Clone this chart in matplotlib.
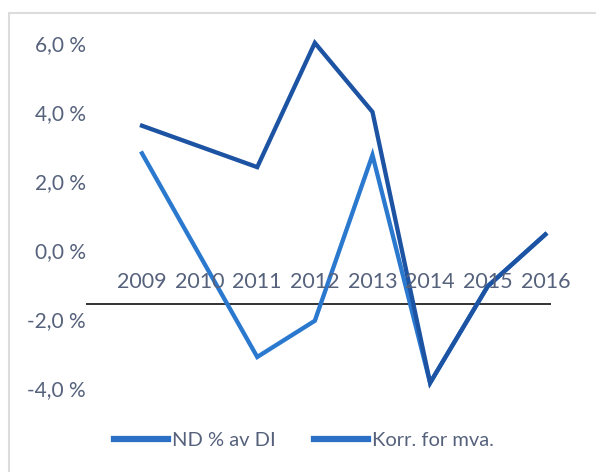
import numpy as np
import matplotlib.pyplot as plt
import matplotlib as mpl
from matplotlib.patches import Rectangle

mpl.rcParams['font.family'] = ['Lato', 'DejaVu Sans']

years = ['2009', '2010', '2011', '2012', '2013', '2014', '2015', '2016']
nd_av_di = [2.8, -0.15, -3.1, -2.05, 2.75, -3.85, -1.05, 0.45]
korr_mva = [3.6, 3.0, 2.4, 6.0, 4.0, -3.85, -1.05, 0.45]
yticks = [-4.0, -2.0, 0.0, 2.0, 4.0, 6.0]
axis_level = -1.57

text_col = '#56627c'
c_nd = '#2a79cf'
c_korr = '#1d53a3'

fig = plt.figure(figsize=(5.96, 4.72), dpi=100)
# light frame of the chart area
fig.patches.append(Rectangle((9 / 596, -0.05), 1.2, 1 - 13 / 472 + 0.05,
                             transform=fig.transFigure, fill=False,
                             edgecolor='#dcdcdc', lw=1.5))

ax = fig.add_axes([0.158, 0.134, 0.786, 0.819])
x = np.arange(len(years))

ax.plot(x, nd_av_di, color=c_nd, lw=3.1, label='ND % av DI', solid_joinstyle='miter')
ax.plot(x, korr_mva, color=c_korr, lw=3.1, label='Korr. for mva.', solid_joinstyle='miter')

ax.hlines(axis_level, -0.98, 7.1, color='#333333', lw=1.4, clip_on=False, zorder=1)

for i, yr in enumerate(years):
    ax.text(i, axis_level + 0.65, yr, ha='center', va='center', fontsize=15.5, color=text_col)

ax.set_xlim(-0.83, 7.3)
ax.set_ylim(-4.6, 6.6)
ax.set_xticks([])
ax.set_yticks(yticks)
ax.set_yticklabels([('%.1f %%' % v).replace('.', ',') for v in yticks])
ax.tick_params(axis='y', length=0, labelsize=15, labelcolor=text_col, pad=6)
for s in ax.spines.values():
    s.set_visible(False)

ax.legend(loc='center', bbox_to_anchor=(0.51, (472 - 440) / 472), bbox_transform=fig.transFigure,
          ncol=2, frameon=False, fontsize=14.5, labelcolor=text_col, handlelength=2.7,
          handletextpad=0.2, columnspacing=1.9)
leg = ax.get_legend()
for h in leg.legend_handles:
    h.set_linewidth(4.5)
    h.set_color('#2b6fc6')

fig.savefig('out.png', dpi=100)
